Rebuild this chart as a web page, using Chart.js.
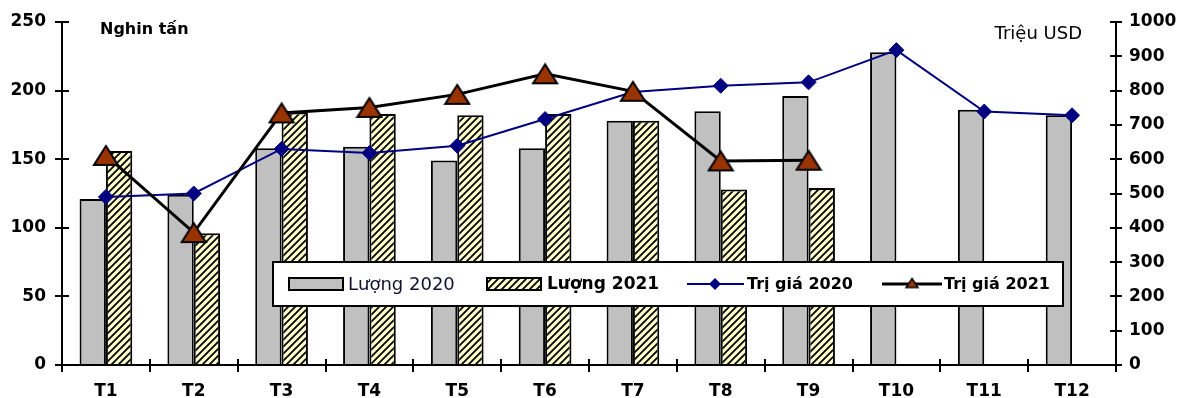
<!DOCTYPE html>
<html>
<head>
<meta charset="utf-8">
<script src="https://cdn.jsdelivr.net/npm/chart.js@4/dist/chart.umd.min.js"></script>
<style>
  html, body { margin: 0; padding: 0; background: #fff; }
  #wrap { width: 1186px; height: 398px; }
</style>
</head>
<body>
<div id="wrap"><canvas id="c" width="1186" height="398"></canvas></div>
<script>
// Monthly categories
const months = ['T1','T2','T3','T4','T5','T6','T7','T8','T9','T10','T11','T12'];

// Volume, thousand tonnes (left axis)
const volume2020 = [121, 124, 158, 159, 149, 158, 178, 185, 196, 228, 186, 182];
const volume2021 = [156, 96, 184, 183, 182, 183, 178, 128, 129, null, null, null];

// Value, million USD (right axis)
const value2020 = [490, 500, 630, 618, 639, 717, 796, 814, 824, 918, 739, 728];
const value2021 = [611, 386, 735, 751, 789, 849, 798, 595, 597, null, null, null];

// Series names
const seriesNames = ['Lượng 2020', 'Lượng 2021', 'Trị giá 2020', 'Trị giá 2021'];

// Axis tick ranges
const leftTicks = { min: 0, max: 250, step: 50 };
const rightTicks = { min: 0, max: 1000, step: 100 };

// Axis units
const leftUnit = 'Nghin tấn';
const rightUnit = 'Triệu USD';

const FONT = '"DejaVu Sans", "Liberation Sans", Arial, sans-serif';
const GRAY = '#C0C0C0';
const NAVY = '#000080';
const BROWN = '#993300';

// Diagonal hatch fill (yellow background, black "/" stripes)
function makeHatch() {
  const s = 7;
  const cv = document.createElement('canvas');
  cv.width = s; cv.height = s;
  const g = cv.getContext('2d');
  g.fillStyle = '#FFFFCC';
  g.fillRect(0, 0, s, s);
  g.strokeStyle = '#000';
  g.lineWidth = 1.8;
  g.beginPath();
  g.moveTo(-1, s + 1); g.lineTo(s + 1, -1);
  g.moveTo(-2, 2); g.lineTo(2, -2);
  g.moveTo(s - 2, s + 2); g.lineTo(s + 2, s - 2);
  g.stroke();
  return g.createPattern(cv, 'repeat');
}
const hatch = makeHatch();

// Triangle marker image, centred on its bounding box
function makeTriangle(w, h, lw) {
  const pad = 2;
  const cv = document.createElement('canvas');
  cv.width = w + pad * 2; cv.height = h + pad * 2;
  const g = cv.getContext('2d');
  g.beginPath();
  g.moveTo(pad + w / 2, pad);
  g.lineTo(pad + w, pad + h);
  g.lineTo(pad, pad + h);
  g.closePath();
  g.fillStyle = BROWN;
  g.fill();
  g.lineWidth = lw;
  g.lineJoin = 'miter';
  g.strokeStyle = '#000';
  g.stroke();
  return cv;
}
const triBig = makeTriangle(24, 19, 2);
const triSmall = makeTriangle(12, 9, 1.5);

// Short tick marks crossing into the plot area, plus unit captions
const extrasPlugin = {
  id: 'extras',
  afterDraw(chart) {
    const ctx = chart.ctx;
    const ca = chart.chartArea;
    const sY = chart.scales.y, sY1 = chart.scales.y1;
    ctx.save();
    ctx.strokeStyle = '#000';
    ctx.lineWidth = 2;
    ctx.beginPath();
    sY.ticks.forEach((t, i) => {
      const y = Math.round(sY.getPixelForTick(i));
      ctx.moveTo(ca.left, y); ctx.lineTo(ca.left + 7, y);
    });
    sY1.ticks.forEach((t, i) => {
      const y = Math.round(sY1.getPixelForTick(i));
      ctx.moveTo(ca.right, y); ctx.lineTo(ca.right - 6, y);
    });
    const n = months.length;
    const step = (ca.right - ca.left) / n;
    for (let i = 1; i < n; i++) {
      const x = Math.round(ca.left + step * i);
      ctx.moveTo(x, ca.bottom); ctx.lineTo(x, ca.bottom - 6);
    }
    ctx.stroke();

    ctx.fillStyle = '#000';
    ctx.textBaseline = 'alphabetic';
    ctx.textAlign = 'left';
    ctx.font = 'bold 16px ' + FONT;
    ctx.fillText(leftUnit, 100, 34);
    ctx.font = '18px ' + FONT;
    ctx.textAlign = 'right';
    ctx.fillText(rightUnit, 1082, 39);
    ctx.restore();
  }
};

// Legend box drawn inside the plot
const legendPlugin = {
  id: 'boxLegend',
  afterDraw(chart) {
    const ctx = chart.ctx;
    const ds = chart.data.datasets;
    const bx = 273, by = 262, bw = 790, bh = 44;
    const cy = by + bh / 2;
    ctx.save();
    ctx.fillStyle = '#fff';
    ctx.fillRect(bx, by, bw, bh);
    ctx.strokeStyle = '#000';
    ctx.lineWidth = 2;
    ctx.strokeRect(bx, by, bw, bh);

    ctx.textBaseline = 'middle';
    ctx.textAlign = 'left';

    // bar swatches
    const sw = [[289, ds[2]], [487, ds[3]]];
    sw.forEach(([x, d]) => {
      ctx.fillStyle = d.backgroundColor;
      ctx.fillRect(x, cy - 6, 54, 12);
      ctx.lineWidth = 2;
      ctx.strokeStyle = '#000';
      ctx.strokeRect(x, cy - 6, 54, 12);
    });
    ctx.fillStyle = '#111133';
    ctx.font = '18px ' + FONT;
    ctx.fillText(ds[2].label, 348, cy + 1);
    ctx.fillStyle = '#000';
    ctx.font = 'bold 17px ' + FONT;
    ctx.fillText(ds[3].label, 547, cy + 1);

    // value 2020 swatch
    ctx.strokeStyle = NAVY;
    ctx.lineWidth = 2;
    ctx.beginPath(); ctx.moveTo(687, cy); ctx.lineTo(744, cy); ctx.stroke();
    ctx.fillStyle = NAVY;
    ctx.beginPath();
    ctx.moveTo(715 - 6, cy); ctx.lineTo(715, cy - 6); ctx.lineTo(715 + 6, cy); ctx.lineTo(715, cy + 6);
    ctx.closePath(); ctx.fill();
    ctx.fillStyle = '#000';
    ctx.font = 'bold 16px ' + FONT;
    ctx.fillText(ds[1].label, 747, cy + 1);

    // value 2021 swatch
    ctx.strokeStyle = '#000';
    ctx.lineWidth = 3;
    ctx.beginPath(); ctx.moveTo(882, cy); ctx.lineTo(942, cy); ctx.stroke();
    ctx.drawImage(triSmall, 912 - triSmall.width / 2, cy - triSmall.height / 2 - 1);
    ctx.fillStyle = '#000';
    ctx.fillText(ds[0].label, 944, cy + 1);
    ctx.restore();
  }
};

new Chart(document.getElementById('c'), {
  data: {
    labels: months,
    datasets: [
      {
        type: 'line', label: seriesNames[3], data: value2021, yAxisID: 'y1', order: 0,
        borderColor: '#000', borderWidth: 3, tension: 0, spanGaps: false,
        pointStyle: triBig, pointRadius: 12, pointHoverRadius: 12
      },
      {
        type: 'line', label: seriesNames[2], data: value2020, yAxisID: 'y1', order: 1,
        borderColor: NAVY, borderWidth: 2, tension: 0,
        pointStyle: 'rectRot', pointRadius: 7.5, pointHoverRadius: 7.5,
        pointBackgroundColor: NAVY, pointBorderColor: NAVY, pointBorderWidth: 1
      },
      {
        type: 'bar', label: seriesNames[0], data: volume2020, yAxisID: 'y', order: 2,
        backgroundColor: GRAY, borderColor: '#000', borderWidth: 2,
        categoryPercentage: 0.6, barPercentage: 1.0
      },
      {
        type: 'bar', label: seriesNames[1], data: volume2021, yAxisID: 'y', order: 3,
        backgroundColor: hatch, borderColor: '#000', borderWidth: 2,
        categoryPercentage: 0.6, barPercentage: 1.0
      }
    ]
  },
  options: {
    responsive: false,
    animation: false,
    layout: { padding: { top: 22, left: 0, right: 0, bottom: 0 } },
    plugins: { legend: { display: false }, tooltip: { enabled: false } },
    scales: {
      x: {
        offset: true,
        grid: { offset: true, drawOnChartArea: false, drawTicks: true, tickLength: 7, color: '#000', lineWidth: 2 },
        border: { color: '#000', width: 2 },
        ticks: { color: '#000', font: { family: FONT, size: 17, weight: 'bold' }, padding: 9, maxRotation: 0 },
        afterFit(s) { s.height = 33; }
      },
      y: {
        position: 'left',
        min: leftTicks.min, max: leftTicks.max,
        grid: { drawOnChartArea: false, drawTicks: true, tickLength: 7, color: '#000', lineWidth: 2 },
        border: { color: '#000', width: 2 },
        ticks: { stepSize: leftTicks.step, color: '#000', font: { family: FONT, size: 17, weight: 'bold' }, padding: 9,
                 callback: v => String(v) },
        afterFit(s) { s.width = 62; }
      },
      y1: {
        position: 'right',
        min: rightTicks.min, max: rightTicks.max,
        grid: { drawOnChartArea: false, drawTicks: true, tickLength: 6, color: '#000', lineWidth: 2 },
        border: { color: '#000', width: 2 },
        ticks: { stepSize: rightTicks.step, color: '#000', font: { family: FONT, size: 17, weight: 'bold' }, padding: 7,
                 callback: v => String(v) },
        afterFit(s) { s.width = 70; }
      }
    }
  },
  plugins: [extrasPlugin, legendPlugin]
});
</script>
</body>
</html>
